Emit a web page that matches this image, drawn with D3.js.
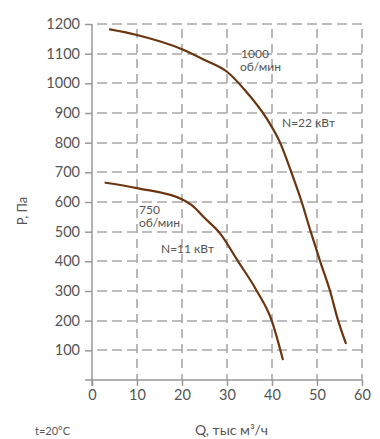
<!DOCTYPE html>
<html>
<head>
<meta charset="utf-8">
<script src="https://cdn.jsdelivr.net/npm/d3@7"></script>
<style>
  html, body { margin: 0; padding: 0; background: #fff; }
  svg { display: block; }
  text { font-family: Lato, "Open Sans", sans-serif; fill: #555; }
</style>
</head>
<body>
<svg id="chart" width="380" height="439" style="background:#fff"></svg>
<script>
// Fan pressure curves at 1000 and 750 rpm
const flowTicks = [0, 10, 20, 30, 40, 50, 60];
const pressureTicks = [100, 200, 300, 400, 500, 600, 700, 800, 900, 1000, 1100, 1200];

const highQ = [4, 10, 20, 25, 30, 34, 38.8, 41.8, 44.3, 46.6, 48.6, 50.7, 52.9, 54.7, 56.4];
const highP = [1182, 1163, 1115, 1079, 1039, 977, 882, 800, 700, 600, 500, 400, 300, 200, 124];

const lowQ = [3, 10.3, 20.3, 22.1, 25.1, 28.4, 32.5, 36.6, 39.9, 42.4];
const lowP = [665, 646, 607, 590, 545, 495, 399, 301, 202, 70];

const svg = d3.select("#chart");
const x = d3.scaleLinear().domain([0, 60]).range([92, 362]);
const y = d3.scaleLinear().domain([0, 1200]).range([380, 24]);

const gridColor = "#a8a8a8";
const axisColor = "#999";
const fmt = d3.format("d");

// dashed grid lines
const grid = svg.append("g").attr("class", "grid");
grid.selectAll("line.h").data(pressureTicks).enter().append("line")
  .attr("class", "h")
  .attr("x1", x(0)).attr("x2", x(60))
  .attr("y1", d => Math.round(y(d))).attr("y2", d => Math.round(y(d)))
  .style("stroke", gridColor).style("stroke-width", "1.6px")
  .style("stroke-dasharray", "10 5").style("stroke-dashoffset", "-5");
grid.selectAll("line.v").data(flowTicks.slice(1)).enter().append("line")
  .attr("class", "v")
  .attr("x1", d => Math.round(x(d))).attr("x2", d => Math.round(x(d)))
  .attr("y1", y(1200) + 5).attr("y2", y(0))
  .style("stroke", gridColor).style("stroke-width", "1.6px")
  .style("stroke-dasharray", "9 6");

// axes
const xAxis = d3.axisBottom(x).tickValues(flowTicks).tickSize(6).tickPadding(4).tickFormat(fmt);
const yAxis = d3.axisLeft(y).tickValues(pressureTicks).tickSize(7).tickPadding(5).tickFormat(fmt);

const gx = svg.append("g").attr("transform", `translate(0,${y(0)})`).call(xAxis);
gx.select(".domain").remove();
gx.selectAll("line").attr("stroke", axisColor).attr("stroke-width", 1.5);
gx.selectAll("text").attr("font-size", 14.5).attr("fill", "#555")
  .attr("font-family", "Lato, 'Open Sans', sans-serif");

const gy = svg.append("g").attr("transform", `translate(${x(0)},0)`).call(yAxis);
gy.select(".domain").remove();
gy.selectAll("line").attr("stroke", axisColor).attr("stroke-width", 1.5);
gy.selectAll("text").attr("font-size", 14.5).attr("fill", "#555")
  .attr("font-family", "Lato, 'Open Sans', sans-serif");

// axis lines
svg.append("line").attr("x1", x(0) - 7).attr("x2", x(60))
  .attr("y1", y(0)).attr("y2", y(0))
  .attr("stroke", axisColor).attr("stroke-width", 1.5);
svg.append("line").attr("x1", x(0)).attr("x2", x(0))
  .attr("y1", y(1200)).attr("y2", y(0) + 6)
  .attr("stroke", axisColor).attr("stroke-width", 1.5);

// curves
const line = d3.line().x(d => x(d[0])).y(d => y(d[1])).curve(d3.curveMonotoneX);
[[highQ, highP], [lowQ, lowP]].forEach(([qs, ps]) => {
  svg.append("path")
    .attr("d", line(qs.map((q, i) => [q, ps[i]])))
    .attr("fill", "none").attr("stroke", "#6b3510").attr("stroke-width", 2.2)
    .attr("stroke-linecap", "round");
});

// annotations
const notes = [
  { t: "1000", x: 241, y: 58 },
  { t: "об/мин", x: 240, y: 71 },
  { t: "N=22 кВт", x: 282, y: 127 },
  { t: "750", x: 139, y: 214 },
  { t: "об/мин", x: 139, y: 227 },
  { t: "N=11 кВт", x: 161, y: 252.5 }
];
svg.append("g").selectAll("text").data(notes).join("text")
  .attr("x", d => d.x).attr("y", d => d.y)
  .attr("font-size", 12).text(d => d.t);

// axis titles
svg.append("text").attr("x", 195).attr("y", 435).attr("font-size", 14)
  .text("Q, тыс м³/ч");
svg.append("text").attr("x", 35).attr("y", 435).attr("font-size", 11)
  .text("t=20°C");
svg.append("text").attr("transform", "translate(27,211) rotate(-90)")
  .attr("text-anchor", "middle").attr("font-size", 13).text("P, Па");
</script>
</body>
</html>
